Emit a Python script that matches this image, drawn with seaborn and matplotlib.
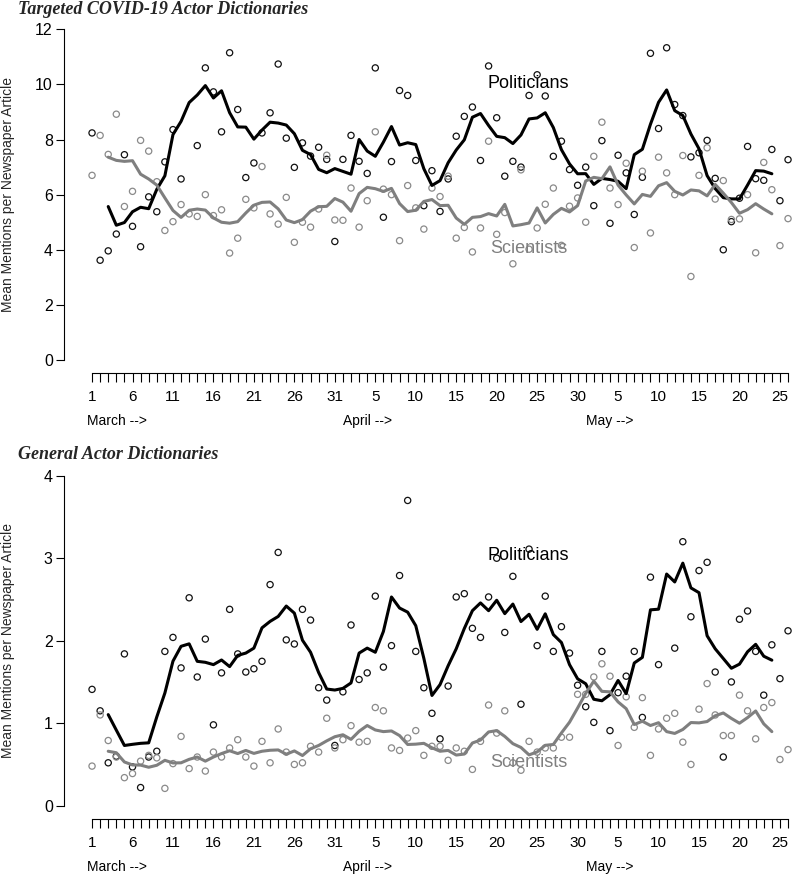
import numpy as np
import pandas as pd
import seaborn as sns
import matplotlib.pyplot as plt

# day 1 = 1 March, day 87 = 26 May
days = np.arange(1, 88)

# mean mentions per article, targeted COVID-19 actor dictionaries
covid_pol = [8.24, 3.62, 3.96, 4.57, 7.45, 4.85, 4.11, 5.92, 5.38, 7.19,
             8.36, 6.57, 13.4, 7.78, 10.6, 9.73, 8.28, 11.15, 9.09, 6.62,
             7.15, 8.24, 8.97, 10.74, 8.05, 6.99, 7.88, 7.4, 7.72, 7.28,
             4.3, 7.28, 8.15, 7.21, 6.77, 10.6, 5.18, 7.2, 9.78, 9.6,
             7.24, 5.6, 6.87, 5.39, 6.57, 8.12, 8.84, 9.18, 7.24, 10.67,
             8.79, 6.67, 7.21, 7.0, 9.6, 10.35, 9.58, 7.39, 7.94, 6.91,
             6.34, 7.0, 5.6, 7.96, 4.96, 7.43, 6.79, 5.28, 6.63, 11.13,
             8.4, 11.33, 9.27, 8.87, 7.37, 7.52, 7.97, 6.59, 4.0, 5.02,
             5.87, 7.75, 6.58, 6.52, 7.64, 5.78, 7.27]
covid_sci = [6.70, 8.15, 7.46, 8.92, 5.57, 6.12, 7.97, 7.58, 6.47, 4.70,
             5.02, 5.64, 5.30, 5.21, 6.0, 5.24, 5.45, 3.88, 4.42, 5.83,
             5.52, 7.02, 5.30, 4.93, 5.90, 4.27, 5.0, 4.82, 5.48, 7.43,
             5.08, 5.07, 6.24, 4.82, 5.78, 8.28, 6.2, 6.0, 4.33, 6.33,
             5.52, 4.75, 6.24, 5.93, 6.67, 4.42, 4.81, 3.92, 4.79, 7.94,
             4.56, 5.35, 3.49, 6.9, 4.02, 4.79, 5.65, 6.24, 4.16, 5.58,
             5.88, 5.0, 7.39, 8.63, 6.24, 5.64, 7.14, 4.08, 6.85, 4.61,
             7.36, 6.79, 6.0, 7.42, 3.03, 6.7, 7.7, 5.84, 6.51, 5.1,
             5.12, 6.0, 3.89, 7.17, 6.18, 4.15, 5.13]

# general actor dictionaries
gen_pol = [1.41, 1.15, 0.52, 0.6, 1.84, 0.47, 0.22, 0.59, 0.66, 1.87,
           2.04, 1.67, 2.52, 1.56, 2.02, 0.98, 1.61, 2.38, 1.84, 1.62,
           1.66, 1.75, 2.68, 3.07, 2.01, 1.96, 2.38, 2.25, 1.43, 1.28,
           0.73, 1.38, 2.19, 1.53, 1.61, 2.54, 1.68, 1.94, 2.79, 3.70,
           1.87, 1.43, 1.12, 0.81, 1.45, 2.53, 2.57, 2.15, 2.04, 2.53,
           3.0, 2.10, 2.78, 1.23, 3.11, 1.94, 2.54, 1.87, 2.17, 1.85,
           1.46, 1.2, 1.01, 1.87, 0.91, 1.37, 1.57, 1.87, 1.07, 2.77,
           1.71, 4.45, 1.91, 3.2, 2.29, 2.85, 2.95, 1.62, 0.59, 1.5,
           2.26, 2.36, 1.87, 1.34, 1.95, 1.54, 2.12]
gen_sci = [0.48, 1.10, 0.79, 0.59, 0.34, 0.39, 0.54, 0.61, 0.58, 0.21,
           0.51, 0.84, 0.45, 0.59, 0.42, 0.65, 0.59, 0.70, 0.80, 0.59,
           0.48, 0.78, 0.52, 0.93, 0.65, 0.50, 0.52, 0.72, 0.65, 1.06,
           0.70, 0.80, 0.97, 0.77, 0.78, 1.19, 1.15, 0.70, 0.67, 0.82,
           0.91, 0.61, 0.72, 0.72, 0.55, 0.70, 0.66, 0.44, 0.78, 1.22,
           0.88, 1.15, 0.52, 0.43, 0.78, 0.65, 0.70, 0.70, 0.83, 0.83,
           1.35, 1.35, 1.56, 1.72, 1.57, 0.73, 1.32, 0.95, 1.31, 0.61,
           0.93, 1.06, 1.12, 0.77, 0.50, 1.17, 1.48, 1.10, 0.85, 0.85,
           1.34, 1.15, 0.81, 1.19, 1.25, 0.56, 0.68]

tick_days = [1, 6, 11, 16, 21, 26, 31, 36, 41, 46, 51, 56, 61, 66, 71, 76, 81, 86]
tick_text = ["1", "6", "11", "16", "21", "26", "31", "5", "10", "15", "20",
             "25", "30", "5", "10", "15", "20", "25"]
month_names = ["March -->", "April -->", "May -->"]
month_pos = [4.1, 35, 65]

sns.set_theme(style="white")
plt.rcParams["font.family"] = ["Liberation Sans", "DejaVu Sans"]

W, H = 792, 877
fig = plt.figure(figsize=(W / 100, H / 100), dpi=100)

GRAY_PT = "#8a8a8a"
GRAY_LN = "#7f7f7f"


def add_ax(left, top, right, bottom):
    return fig.add_axes([left / W, 1 - bottom / H, (right - left) / W, (bottom - top) / H])


def draw_panel(ax, pol, sci, ymax, yticks, pol_y, sci_y):
    df = pd.DataFrame({"day": days, "Politicians": pol, "Scientists": sci})
    # 5-day centred moving average
    smooth = df[["Politicians", "Scientists"]].rolling(5, center=True).mean()
    smooth["day"] = days
    smooth = smooth.dropna()

    sns.scatterplot(data=df, x="day", y="Politicians", ax=ax, marker="o", s=20,
                    facecolor="none", edgecolor="#111111", linewidth=0.9, zorder=2)
    sns.scatterplot(data=df, x="day", y="Scientists", ax=ax, marker="o", s=20,
                    facecolor="none", edgecolor=GRAY_PT, linewidth=0.9, zorder=2)
    sns.lineplot(data=smooth, x="day", y="Politicians", ax=ax, color="black",
                 lw=2.2, estimator=None, zorder=3)
    sns.lineplot(data=smooth, x="day", y="Scientists", ax=ax, color=GRAY_LN,
                 lw=2.2, estimator=None, zorder=4)

    ax.text(54.9, pol_y, "Politicians", ha="center", va="center", fontsize=13, color="black")
    ax.text(55, sci_y, "Scientists", ha="center", va="center", fontsize=13, color=GRAY_LN)

    ax.set_xlim(-2.44, 87.49)
    ax.set_ylim(-0.04 * ymax, 1.04 * ymax)
    ax.set_xlabel("")
    ax.set_ylabel("")
    for s in ["top", "right"]:
        ax.spines[s].set_visible(False)
    for s in ["left", "bottom"]:
        ax.spines[s].set_color("black")
        ax.spines[s].set_linewidth(0.8)
    ax.spines["left"].set_bounds(0, ymax)
    ax.spines["bottom"].set_bounds(1, 87)

    labels = [""] * len(days)
    for d, t in zip(tick_days, tick_text):
        labels[d - 1] = t
    ax.set_xticks(days)
    ax.set_xticklabels(labels)
    ax.set_yticks(yticks)
    ax.set_yticklabels([str(v) for v in yticks])
    ax.tick_params(axis="x", bottom=True, direction="out", length=6.3, width=0.8,
                   pad=6.0, labelsize=11, color="black", labelcolor="black")
    ax.tick_params(axis="y", left=True, direction="out", length=5.5, width=0.8,
                   pad=2.7, labelsize=11.5, color="black", labelcolor="black")

    h_px = ax.get_position().height * H
    for name, pos in zip(month_names, month_pos):
        ax.text(pos, -48 / h_px, name, transform=ax.get_xaxis_transform(),
                ha="center", va="center", fontsize=10, color="black")


ax_top = add_ax(64.2, 16.1, 792, 373.2)
ax_bot = add_ax(64.2, 462.5, 792, 818.9)

draw_panel(ax_top, covid_pol, covid_sci, 12, [0, 2, 4, 6, 8, 10, 12], 10.05, 4.04)
draw_panel(ax_bot, gen_pol, gen_sci, 4, [0, 1, 2, 3, 4], 3.03, 0.52)

title_kw = dict(fontfamily=["Liberation Serif", "DejaVu Serif"], fontweight="bold",
                fontstyle="italic", fontsize=13, va="baseline", ha="left")
fig.text(18 / W, 1 - 13.5 / H, "Targeted COVID-19 Actor Dictionaries", **title_kw)
fig.text(18 / W, 1 - 459.3 / H, "General Actor Dictionaries", **title_kw)

ylab = "Mean Mentions per Newspaper Article"
fig.text(8 / W, 1 - 194.7 / H, ylab, rotation=90, ha="center", va="center", fontsize=10)
fig.text(8 / W, 1 - 640.7 / H, ylab, rotation=90, ha="center", va="center", fontsize=10)

fig.savefig("out.png", dpi=100)
